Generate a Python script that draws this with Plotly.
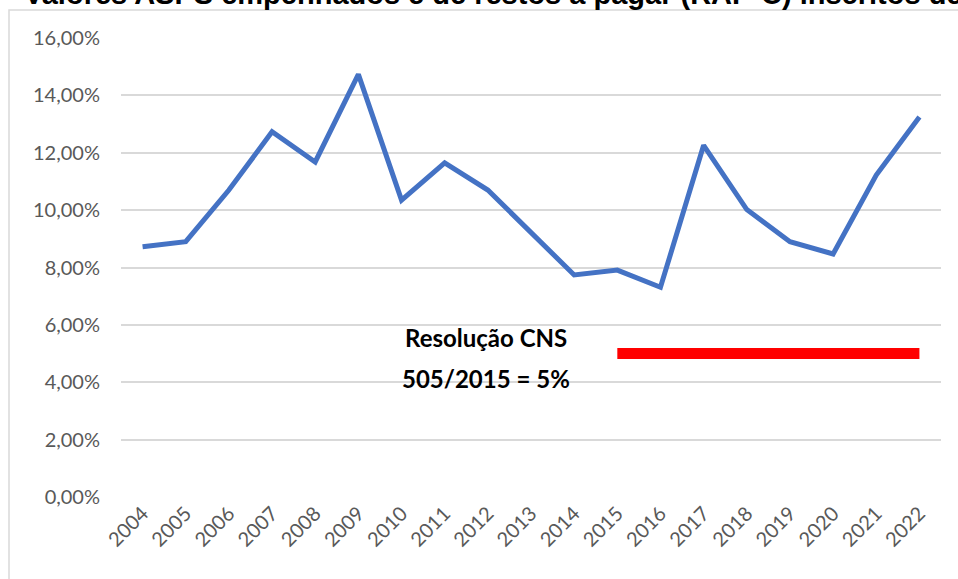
import plotly.graph_objects as go

years = [str(y) for y in range(2004, 2023)]
percent_values = [8.72, 8.90, 10.70, 12.73, 11.68, 14.73, 10.35, 11.65, 10.70, 9.22,
                  7.74, 7.91, 7.31, 12.26, 10.02, 8.90, 8.47, 11.22, 13.25]
ref_years = [str(y) for y in range(2015, 2023)]
ref_values = [5.0] * len(ref_years)
y_ticks = [0, 2, 4, 6, 8, 10, 12, 14, 16]
y_tick_labels = ["0,00%", "2,00%", "4,00%", "6,00%", "8,00%", "10,00%", "12,00%", "14,00%", "16,00%"]
title_text = "Valores ASPS empenhados e de restos a pagar (RAP-C) inscritos de restos a pagar"
note_line1 = "Resolução CNS"
note_line2 = "505/2015 = 5%"

W, H = 958, 579
L, R, T, B = 121, 17, 38, 82
pw, ph = W - L - R, H - T - B

def px(x):
    return (x - L) / pw

def py(y):
    return (H - B - y) / ph

fig = go.Figure()
fig.add_trace(go.Scatter(x=years, y=percent_values, mode="lines",
                         line=dict(color="#4472C4", width=5), hoverinfo="x+y",
                         showlegend=False))
fig.add_trace(go.Scatter(x=ref_years, y=ref_values, mode="lines",
                         line=dict(color="#FF0000", width=11), showlegend=False))

fig.update_layout(
    width=W, height=H,
    margin=dict(l=L, r=R, t=T, b=B),
    paper_bgcolor="white", plot_bgcolor="white",
    font=dict(family="Lato, Open Sans, sans-serif", color="#595959"),
    xaxis=dict(type="category", categoryorder="array", categoryarray=years,
               tickangle=-45, tickfont=dict(size=20, color="#595959"),
               showgrid=False, showline=False, zeroline=False, ticks="",
               range=[-0.5, len(years) - 0.5]),
    yaxis=dict(range=[0, 16], tickmode="array", tickvals=y_ticks, ticktext=y_tick_labels,
               tickfont=dict(size=20, color="#595959"),
               showgrid=True, gridcolor="#D9D9D9", gridwidth=2,
               zeroline=False, showline=False, ticks="", ticklabelstandoff=20),
    shapes=[dict(type="rect", xref="paper", yref="paper",
                 x0=px(9), x1=px(965), y0=py(590), y1=py(10),
                 line=dict(color="#D9D9D9", width=1.5), fillcolor="rgba(0,0,0,0)",
                 layer="below")],
    annotations=[
        dict(text=note_line1, xref="paper", yref="paper", x=px(486), y=py(337),
             xanchor="center", yanchor="middle", showarrow=False,
             font=dict(family="Lato, sans-serif", size=24, color="black", weight="bold")),
        dict(text=note_line2, xref="paper", yref="paper", x=px(486), y=py(378),
             xanchor="center", yanchor="middle", showarrow=False,
             font=dict(family="Lato, sans-serif", size=24, color="black", weight="bold")),
        dict(text="<b>" + title_text + "</b>", xref="paper", yref="paper",
             x=px(22), y=py(12), xanchor="left", yanchor="bottom", showarrow=False,
             font=dict(family="Liberation Sans, Arial, sans-serif", size=29, color="black")),
    ],
)

fig.write_html("out.html", config={"displayModeBar": False},
               post_script="document.body.style.margin='0px';")
